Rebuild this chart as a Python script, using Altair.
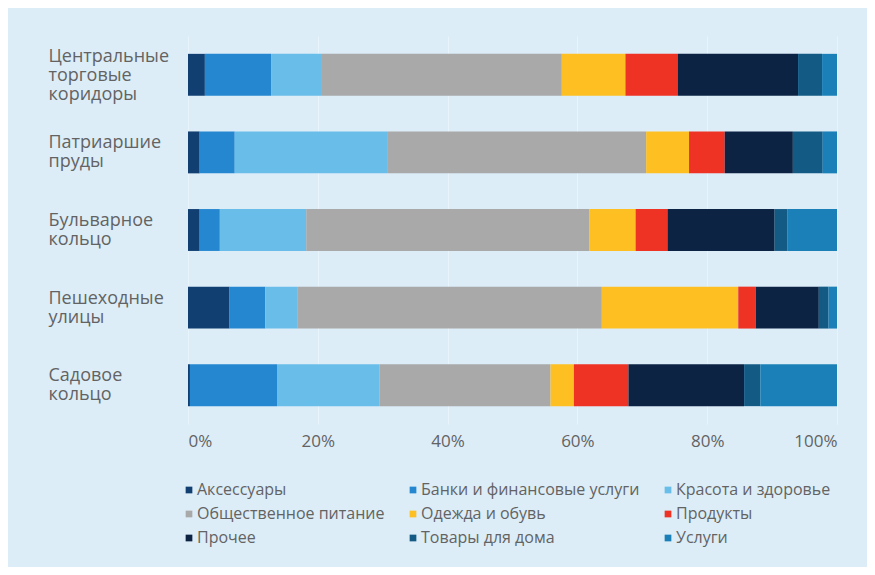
import altair as alt
import pandas as pd

categories = ["Центральные торговые коридоры", "Патриаршие пруды", "Бульварное кольцо",
              "Пешеходные улицы", "Садовое кольцо"]

series = ["Аксессуары", "Банки и финансовые услуги", "Красота и здоровье",
          "Общественное питание", "Одежда и обувь", "Продукты",
          "Прочее", "Товары для дома", "Услуги"]

aksessuary = [2.6, 1.8, 1.8, 6.4, 0.3]
banki = [10.2, 5.4, 3.1, 5.5, 13.4]
krasota = [7.7, 23.6, 13.3, 4.9, 15.8]
obshchepit = [37.1, 39.8, 43.6, 46.9, 26.3]
odezhda = [9.8, 6.6, 7.1, 21.0, 3.6]
produkty = [8.1, 5.5, 4.9, 2.7, 8.4]
prochee = [18.5, 10.5, 16.5, 9.7, 17.8]
tovary = [3.7, 4.6, 2.0, 1.5, 2.5]
uslugi = [2.3, 2.2, 7.6, 1.3, 11.8]

colors = ["#113F72", "#2487D0", "#68BDE9", "#A9A9A9", "#FDBF22",
          "#EE3224", "#0C2344", "#135B85", "#1C80B8"]

values = [aksessuary, banki, krasota, obshchepit, odezhda, produkty, prochee, tovary, uslugi]

rows = []
for si, (name, vals) in enumerate(zip(series, values)):
    for ci, cat in enumerate(categories):
        rows.append({"category": cat, "series": name, "value": vals[ci], "order": si})
df = pd.DataFrame(rows)

FONT = "Open Sans"
TEXT = "#636363"

chart = alt.Chart(df).mark_bar().encode(
    y=alt.Y("category:N", sort=categories, title=None,
            scale=alt.Scale(paddingInner=0.46, paddingOuter=0.23),
            axis=alt.Axis(labelExpr="split(datum.label, ' ')", labelAlign="left",
                          labelPadding=140, ticks=False, domain=False,
                          labelFontSize=18, labelLineHeight=19, labelColor=TEXT,
                          labelFont=FONT, labelBaseline="middle", labelLimit=200,
                          labelOffset={"condition": {"test": "length(split(datum.value, ' ')) > 2",
                                                     "value": -18},
                                       "value": -9})),
    x=alt.X("value:Q", stack="normalize", title=None,
            scale=alt.Scale(domain=[0, 1]),
            axis=alt.Axis(values=[0, 0.2, 0.4, 0.6, 0.8, 1.0], format=".0%",
                          grid=True, gridColor="#E8F4FC", gridWidth=1,
                          ticks=False, domain=False, labelPadding=9,
                          labelFontSize=17, labelColor=TEXT, labelFont=FONT)),
    color=alt.Color("series:N", scale=alt.Scale(domain=series, range=colors),
                    legend=alt.Legend(title=None, orient="none", legendX=-7, legendY=446,
                                      columns=3, direction="horizontal",
                                      symbolType="square", symbolSize=45,
                                      symbolStrokeWidth=0, symbolOffset=0,
                                      labelFontSize=16, labelFont=FONT, labelColor=TEXT,
                                      labelOffset=0, rowPadding=8, columnPadding=20,
                                      gridAlign="each", labelLimit=300, padding=0)),
    order=alt.Order("order:Q", sort="ascending"),
).properties(
    width=649, height=388,
    padding={"left": 180, "top": 28, "right": 30, "bottom": 143},
    autosize=alt.AutoSizeParams(type="none"),
    background="#DCEDF8",
).configure_view(stroke=None)

chart.save("out.html", embed_options={"renderer": "svg", "actions": False})
